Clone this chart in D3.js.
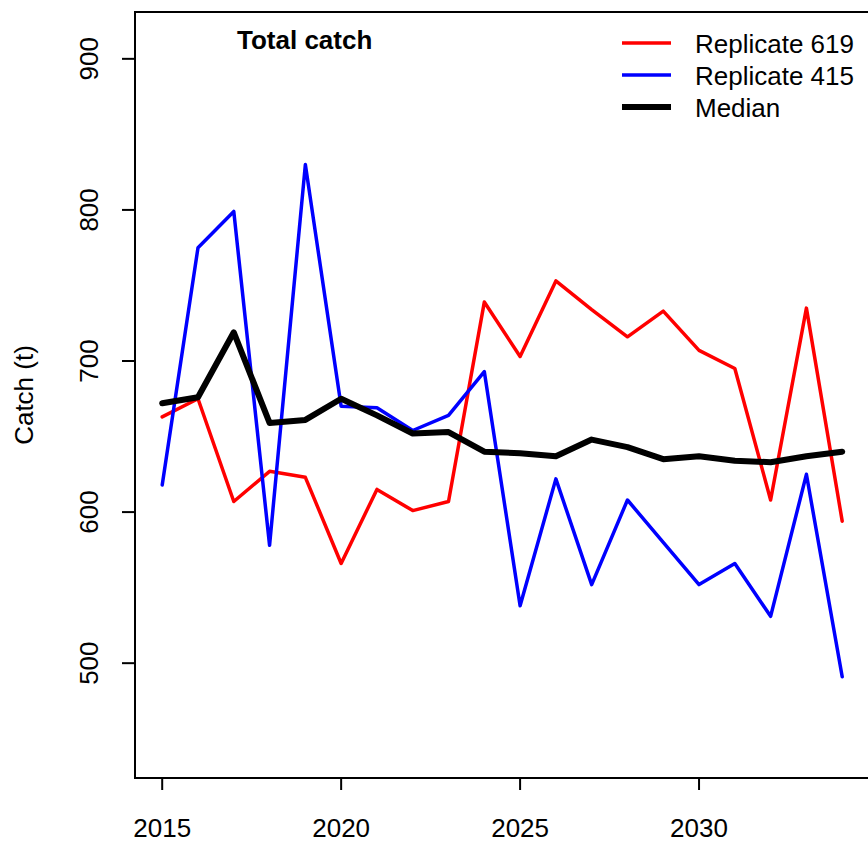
<!DOCTYPE html>
<html>
<head>
<meta charset="utf-8">
<script src="https://cdn.jsdelivr.net/npm/d3@7"></script>
<style>
html,body{margin:0;padding:0;background:#fff;}
svg{display:block;font-family:"Liberation Sans",Arial,sans-serif;}
</style>
</head>
<body>
<svg id="chart" width="868" height="844"></svg>
<script>
const years = [2015,2016,2017,2018,2019,2020,2021,2022,2023,2024,2025,2026,2027,2028,2029,2030,2031,2032,2033,2034];
const rep619 = [663,675,607,627,623,566,615,601,607,739,703,753,734,716,733,707,695,608,735,594];
const rep415 = [618,775,799,578,830,670,669,654,664,693,538,622,552,608,580,552,566,531,625,491];
const median = [672,676,719,659,661,675,664,652,653,640,639,637,648,643,635,637,634,633,637,640];
const yTicks = [500,600,700,800,900];
const xTicks = [2015,2020,2025,2030];
const seriesNames = ["Replicate 619","Replicate 415","Median"];
const seriesColors = ["#ff0000","#0000ff","#000000"];
const seriesWidths = [3.5,3.5,6];

(function(){
const svg = d3.select("#chart");
const pL = 135, pT = 12, pB = 778, pR = 869.4;
const x = d3.scaleLinear().domain([2014.24, 2034.76]).range([pL, pR]);
const y = d3.scaleLinear().domain([424, 931]).range([pB, pT]);

svg.append("rect").attr("x", pL).attr("y", pT).attr("width", pR-pL).attr("height", pB-pT)
  .attr("fill","none").attr("stroke","#000").attr("stroke-width",2);

const xAxis = svg.append("g");
xTicks.forEach(t => {
  xAxis.append("line").attr("x1", x(t)).attr("x2", x(t)).attr("y1", pB).attr("y2", pB+12)
    .attr("stroke","#000").attr("stroke-width",2);
  xAxis.append("text").attr("x", x(t)).attr("y", 837).attr("text-anchor","middle")
    .attr("font-size", 26).text(t);
});
const yAxis = svg.append("g");
yTicks.forEach(t => {
  yAxis.append("line").attr("x1", pL-13).attr("x2", pL).attr("y1", y(t)).attr("y2", y(t))
    .attr("stroke","#000").attr("stroke-width",2);
  yAxis.append("text").attr("transform", `translate(98,${y(t)}) rotate(-90)`)
    .attr("text-anchor","middle").attr("font-size", 26).text(t);
});
svg.append("text").attr("transform", `translate(33,395) rotate(-90)`)
  .attr("text-anchor","middle").attr("font-size", 26).text("Catch (t)");

svg.append("clipPath").attr("id","clip").append("rect")
  .attr("x",pL).attr("y",pT).attr("width",pR-pL).attr("height",pB-pT);
const line = d3.line().x((d,i)=>x(years[i])).y(d=>y(d));
const data = [rep619, rep415, median];
data.forEach((s,k) => {
  svg.append("path").datum(s).attr("d", line).attr("fill","none")
    .attr("stroke", seriesColors[k]).attr("stroke-width", seriesWidths[k])
    .attr("stroke-linejoin","round").attr("stroke-linecap","round")
    .attr("clip-path","url(#clip)");
});

svg.append("text").attr("x", 237).attr("y", 49).attr("font-size", 26).attr("font-weight","bold").text("Total catch");

seriesNames.forEach((n,k) => {
  const ly = 43 + k*32;
  svg.append("line").attr("x1", 622).attr("x2", 671).attr("y1", ly).attr("y2", ly)
    .attr("stroke", seriesColors[k]).attr("stroke-width", seriesWidths[k]);
  svg.append("text").attr("x", 695).attr("y", ly+10).attr("font-size", 26).text(n);
});
})();
</script>
</body>
</html>
